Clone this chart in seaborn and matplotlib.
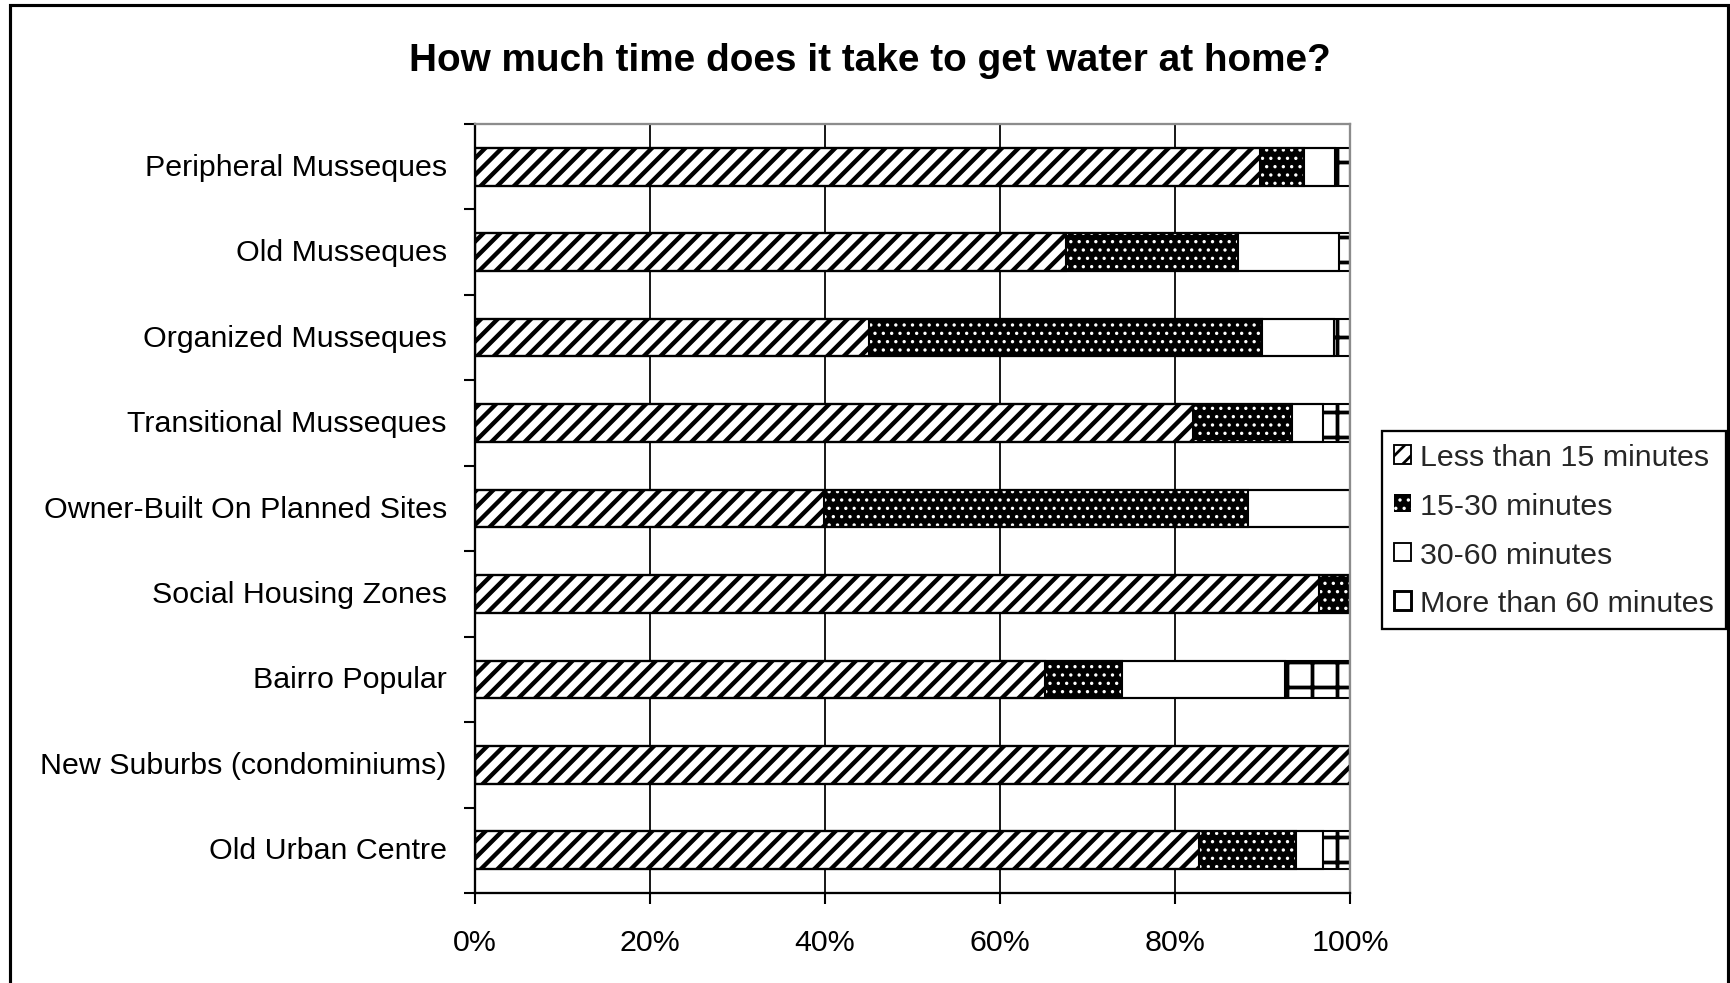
import matplotlib
matplotlib.use("Agg")
import matplotlib.pyplot as plt
import seaborn as sns
import numpy as np
from matplotlib.patches import Patch, Rectangle
from matplotlib.ticker import FixedLocator, FuncFormatter

# ---- data (percent of households) ----
zones = [
    "Peripheral Musseques",
    "Old Musseques",
    "Organized Musseques",
    "Transitional Musseques",
    "Owner-Built On Planned Sites",
    "Social Housing Zones",
    "Bairro Popular",
    "New Suburbs (condominiums)",
    "Old Urban Centre",
]
less_15 = [89.7, 67.6, 45.0, 82.1, 39.9, 96.5, 65.1, 100.0, 82.8]
min_15_30 = [5.0, 19.6, 44.9, 11.3, 48.4, 3.5, 8.8, 0.0, 11.0]
min_30_60 = [3.6, 11.5, 8.3, 3.5, 11.7, 0.0, 18.7, 0.0, 3.1]
more_60 = [1.7, 1.3, 1.8, 3.1, 0.0, 0.0, 7.4, 0.0, 3.1]
series_names = ["Less than 15 minutes", "15-30 minutes", "30-60 minutes", "More than 60 minutes"]
x_ticks = [0, 20, 40, 60, 80, 100]
title = "How much time does it take to get water at home?"

# ---- styling ----
sns.set_style("white")
plt.rcParams["font.family"] = ["Liberation Sans", "DejaVu Sans"]

# face colour, hatch colour, hatch pattern, hatch line width (pt)
seg_styles = [
    ("white", "black", "///", 2.1),
    ("black", "white", "...", 0.8),
    ("white", "white", None, 1.0),
    ("white", "black", "+", 1.8),
]


def use_hatch_width(artist, lw):
    """Draw an artist with its own hatch line width."""
    if hasattr(artist, "set_hatch_linewidth"):
        artist.set_hatch_linewidth(lw)
    base_draw = artist.draw

    def draw(renderer, *args, **kwargs):
        with plt.rc_context({"hatch.linewidth": lw}):
            return base_draw(renderer, *args, **kwargs)

    artist.draw = draw


DPI = 150
fig = plt.figure(figsize=(1731 / DPI, 984 / DPI), dpi=DPI)
ax = fig.add_axes([475 / 1731, 1 - 894 / 984, (1350 - 475) / 1731, (894 - 125) / 984])

series = [less_15, min_15_30, min_30_60, more_60]
cum = np.cumsum(np.array(series, dtype=float), axis=0)
BAR_W = 0.44

# stacked bars: draw cumulative totals from the outermost segment inwards
for k in reversed(range(len(series))):
    face, hcol, hatch, hlw = seg_styles[k]
    start = len(ax.patches)
    sns.barplot(x=list(cum[k]), y=zones, order=zones, orient="h", width=BAR_W,
                color=face, errorbar=None, ax=ax)
    for p in ax.patches[start:]:
        p.set_facecolor(face)
        p.set_edgecolor(hcol)
        p.set_linewidth(0)
        p.set_hatch(hatch)
        use_hatch_width(p, hlw)

# black outlines around every segment boundary
for k in range(len(series)):
    start = len(ax.patches)
    sns.barplot(x=list(cum[k]), y=zones, order=zones, orient="h", width=BAR_W,
                fill=False, color="black", errorbar=None, ax=ax)
    for p in ax.patches[start:]:
        p.set_facecolor("none")
        p.set_edgecolor("black")
        p.set_linewidth(1.0)
        p.set_hatch(None)

# axes
ax.set_xlim(0, 100)
ax.set_ylim(len(zones) - 0.5, -0.5)
ax.set_xlabel("")
ax.set_ylabel("")
ax.set_xticks(x_ticks)
ax.xaxis.set_major_formatter(FuncFormatter(lambda v, _: f"{v:.0f}%"))
ax.xaxis.grid(True, color="black", linewidth=0.85)
ax.yaxis.grid(False)
ax.set_axisbelow(True)

ax.yaxis.set_minor_locator(FixedLocator(np.arange(-0.5, len(zones), 1.0)))
ax.tick_params(axis="y", which="major", left=False, length=0, pad=13.5, labelsize=14.6,
               labelcolor="black")
ax.tick_params(axis="y", which="minor", left=True, length=5.3, width=1.0, color="black",
               direction="out")
ax.tick_params(axis="x", which="major", bottom=True, length=5.3, width=1.0, color="black",
               direction="out", pad=11.6, labelsize=14.6, labelcolor="black")
for lbl in ax.get_yticklabels():
    lbl.set_verticalalignment("center")

for side in ("left", "bottom"):
    ax.spines[side].set_color("black")
    ax.spines[side].set_linewidth(1.1)
for side in ("top", "right"):
    ax.spines[side].set_visible(True)
    ax.spines[side].set_color("#8c8c8c")
    ax.spines[side].set_linewidth(1.1)

# title
fig.text(870 / 1731, 1 - 61 / 984, title, ha="center", va="center",
         fontsize=18.6, fontweight="bold", color="black")

# legend
handles = [
    Patch(facecolor="white", edgecolor="black", hatch="///", linewidth=0.9),
    Patch(facecolor="black", edgecolor="white", hatch="...", linewidth=0),
    Patch(facecolor="white", edgecolor="black", linewidth=0.9),
    Patch(facecolor="white", edgecolor="black", hatch="+", linewidth=1.4),
]
leg = fig.legend(handles, series_names, loc="upper left",
                 bbox_to_anchor=(1382 / 1731, 1 - 432 / 984), borderaxespad=0,
                 frameon=True, fancybox=False, framealpha=1, edgecolor="black",
                 fontsize=14.6, handlelength=0.55, handleheight=0.55,
                 handletextpad=0.3, labelspacing=0.68, borderpad=0.4)
leg.get_frame().set_linewidth(1.1)
for h, (_, _, _, hlw) in zip(leg.legend_handles, seg_styles):
    use_hatch_width(h, min(hlw, 1.3))

# outer chart frame
fig.patches.append(Rectangle((10 / 1731, -0.1), (1728 - 10) / 1731, 1.1 - 6 / 984,
                             transform=fig.transFigure, fill=False,
                             edgecolor="black", linewidth=1.5))

fig.savefig("out.png", dpi=DPI, facecolor="white")
